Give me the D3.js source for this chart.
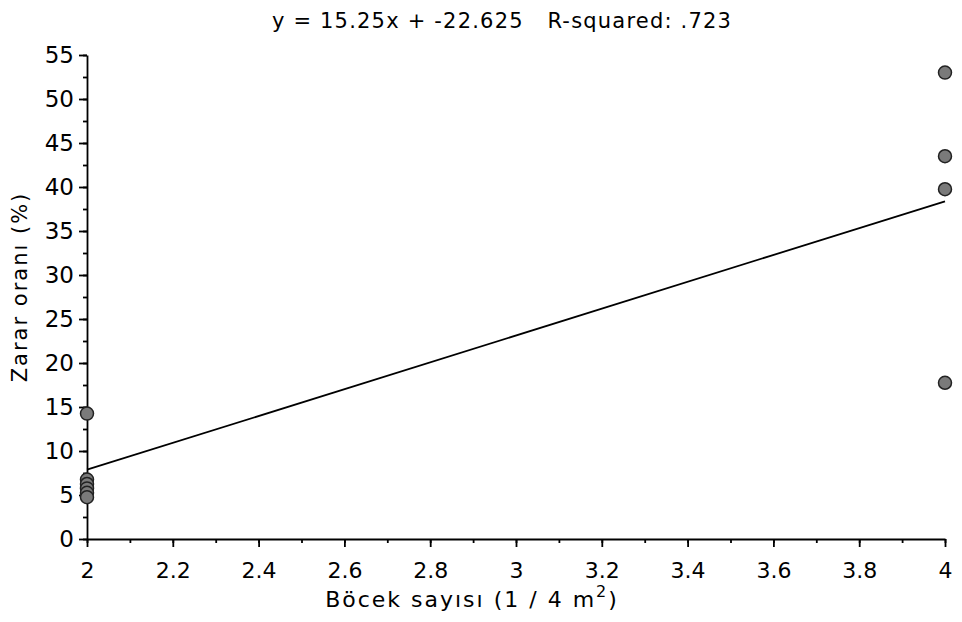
<!DOCTYPE html>
<html>
<head>
<meta charset="utf-8">
<script src="https://cdn.jsdelivr.net/npm/d3@7"></script>
<style>
  body { margin: 0; background: #fff; }
  text { font-family: "DejaVu Sans", sans-serif; fill: #000; }
</style>
</head>
<body>
<div id="wrapper"></div>
<script>
// data
const xGroups = [2, 2, 2, 2, 2, 2, 4, 4, 4, 4];
const damage = [14.25, 6.75, 6.25, 5.75, 5.25, 4.75, 53, 43.5, 39.75, 17.75];
const xTicks = [2, 2.2, 2.4, 2.6, 2.8, 3, 3.2, 3.4, 3.6, 3.8, 4];
const yTicks = [0, 5, 10, 15, 20, 25, 30, 35, 40, 45, 50, 55];
const slope = 15.25;
const intercept = -22.625;
const titleText = "y = 15.25x + -22.625   R-squared: .723";

const dataset = xGroups.map((x, i) => ({ x, y: damage[i] }));

const dimensions = {
  width: 962,
  height: 622,
  margin: { top: 55, right: 17, bottom: 83, left: 87 },
};
dimensions.boundedWidth = dimensions.width - dimensions.margin.left - dimensions.margin.right;
dimensions.boundedHeight = dimensions.height - dimensions.margin.top - dimensions.margin.bottom;

const wrapper = d3.select('#wrapper')
  .append('svg')
  .attr('width', dimensions.width)
  .attr('height', dimensions.height);

const bounds = wrapper.append('g')
  .attr('transform', `translate(${dimensions.margin.left},${dimensions.margin.top})`);

const xScale = d3.scaleLinear()
  .domain([2, 4])
  .range([0, dimensions.boundedWidth]);
const yScale = d3.scaleLinear()
  .domain([0, 55])
  .range([dimensions.boundedHeight, 0]);

// regression line
const lineGen = d3.line()
  .x(d => xScale(d))
  .y(d => yScale(slope * d + intercept));
bounds.append('path')
  .datum([2, 4])
  .attr('d', lineGen)
  .attr('fill', 'none')
  .attr('stroke', '#000')
  .attr('stroke-width', 1.8);

// axes
const fmt = d => (Number.isInteger(d) ? d3.format('d')(d) : d3.format('.1f')(d));

const xMinor = d3.range(2, 4.001, 0.1);
bounds.append('g')
  .attr('transform', `translate(0,${dimensions.boundedHeight})`)
  .call(d3.axisBottom(xScale).tickValues(xMinor).tickSize(4).tickFormat(''))
  .call(g => g.select('.domain').remove());
const xAxis = bounds.append('g')
  .attr('transform', `translate(0,${dimensions.boundedHeight})`)
  .call(d3.axisBottom(xScale).tickValues(xTicks).tickSize(8).tickSizeOuter(0).tickPadding(15).tickFormat(fmt));
xAxis.selectAll('text').style('font-size', '22px');

const yMinor = d3.range(0, 55.01, 2.5);
bounds.append('g')
  .call(d3.axisLeft(yScale).tickValues(yMinor).tickSize(4).tickFormat(''))
  .call(g => g.select('.domain').remove());
const yAxis = bounds.append('g')
  .call(d3.axisLeft(yScale).tickValues(yTicks).tickSize(8).tickSizeOuter(0).tickPadding(5));
yAxis.selectAll('text').style('font-size', '23px');

wrapper.selectAll('.domain, .tick line').attr('stroke', '#000').attr('stroke-width', 1.8);

// points
bounds.selectAll('circle')
  .data(dataset)
  .enter()
  .append('circle')
  .attr('cx', d => xScale(d.x))
  .attr('cy', d => yScale(d.y))
  .attr('r', 6.5)
  .attr('fill', '#7a7a7a')
  .attr('stroke', '#222')
  .attr('stroke-width', 1.5);

// labels
wrapper.append('text')
  .attr('x', 502)
  .attr('y', 28)
  .attr('text-anchor', 'middle')
  .style('font-size', '21px')
  .style('letter-spacing', '1.2px')
  .style('white-space', 'pre')
  .text(titleText);

const xLabel = wrapper.append('text')
  .attr('x', 472)
  .attr('y', 607)
  .attr('text-anchor', 'middle')
  .style('font-size', '22px')
  .style('letter-spacing', '2px');
xLabel.append('tspan').text('Böcek sayısı (1 / 4 m');
xLabel.append('tspan').attr('dy', -10).style('font-size', '16px').text('2');
xLabel.append('tspan').attr('dy', 10).text(')');

wrapper.append('text')
  .attr('transform', 'rotate(-90)')
  .attr('x', -287)
  .attr('y', 27)
  .attr('text-anchor', 'middle')
  .style('font-size', '21px')
  .style('letter-spacing', '2px')
  .text('Zarar oranı (%)');
</script>
</body>
</html>
